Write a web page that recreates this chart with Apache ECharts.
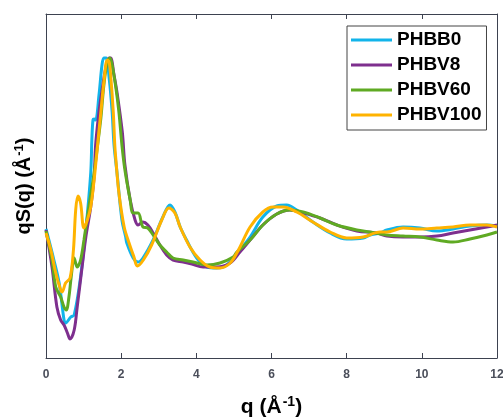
<!DOCTYPE html>
<html>
<head>
<meta charset="utf-8">
<script src="https://cdn.jsdelivr.net/npm/echarts@6/dist/echarts.min.js"></script>
<style>html,body{margin:0;padding:0;background:#fff;}#c{width:503px;height:417px;}</style>
</head>
<body>
<div id="c"></div>
<script>
const seriesNames = ['PHBB0', 'PHBV8', 'PHBV60', 'PHBV100'];
const xTicks = [0, 2, 4, 6, 8, 10, 12];

const qPHBB0 = [0, 0.21, 0.35, 0.48, 0.52, 0.66, 0.75, 0.92, 1.06, 1.19, 1.22, 1.25, 1.28, 1.32, 1.41, 1.49, 1.54, 1.6, 1.68, 1.76, 1.81, 1.89, 2.02, 2.12, 2.15, 2.32, 2.45, 2.58, 2.85, 3.11, 3.3, 3.43, 3.57, 3.74, 4.01, 4.28, 4.54, 4.81, 5.11, 5.43, 5.77, 6.14, 6.4, 6.67, 7.1, 7.56, 8.0, 8.44, 8.62, 8.89, 9.07, 9.5, 9.95, 10.4, 10.83, 11.28, 11.73, 12];
const vPHBB0 = [0.03, -0.28, -0.51, -0.88, -0.91, -0.85, -0.83, -0.45, 0.02, 0.59, 0.92, 1.12, 1.13, 1.12, 1.37, 1.67, 1.74, 1.74, 1.54, 1.20, 0.87, 0.59, 0.12, -0.05, -0.11, -0.26, -0.30, -0.26, -0.08, 0.15, 0.27, 0.20, 0.05, -0.08, -0.26, -0.35, -0.36, -0.33, -0.20, -0.05, 0.15, 0.26, 0.27, 0.22, 0.10, -0.01, -0.07, -0.06, -0.03, -0.01, 0.02, 0.05, 0.04, 0.01, 0.03, 0.06, 0.07, 0.06];

const qPHBV8 = [0, 0.16, 0.29, 0.39, 0.48, 0.57, 0.64, 0.75, 0.83, 0.96, 1.06, 1.19, 1.28, 1.32, 1.41, 1.5, 1.59, 1.68, 1.72, 1.81, 1.9, 2.03, 2.1, 2.24, 2.37, 2.45, 2.58, 2.71, 2.85, 3.03, 3.21, 3.38, 3.65, 3.88, 4.18, 4.54, 4.9, 5.16, 5.43, 5.77, 6.14, 6.49, 6.84, 7.29, 7.74, 8.27, 8.8, 9.07, 9.5, 9.95, 10.4, 10.83, 11.28, 11.73, 12];
const vPHBV8 = [0.02, -0.35, -0.75, -0.88, -0.93, -1.01, -1.07, -0.98, -0.75, -0.35, -0.05, 0.25, 0.55, 0.87, 1.20, 1.44, 1.64, 1.74, 1.74, 1.57, 1.37, 1.00, 0.67, 0.32, 0.12, 0.07, 0.10, 0.07, -0.01, -0.13, -0.23, -0.28, -0.30, -0.32, -0.35, -0.35, -0.31, -0.20, -0.08, 0.07, 0.18, 0.22, 0.19, 0.14, 0.07, 0.01, -0.01, -0.04, -0.05, -0.05, -0.04, -0.01, 0.02, 0.05, 0.07];

const qPHBV60 = [0, 0.16, 0.26, 0.39, 0.48, 0.54, 0.61, 0.67, 0.75, 0.83, 0.92, 1.01, 1.14, 1.28, 1.37, 1.46, 1.54, 1.63, 1.7, 1.76, 1.86, 1.94, 2.02, 2.1, 2.24, 2.32, 2.45, 2.58, 2.71, 2.85, 3.03, 3.21, 3.38, 3.65, 3.91, 4.28, 4.63, 4.98, 5.08, 5.43, 5.77, 6.14, 6.49, 6.84, 7.29, 7.74, 8.27, 8.62, 9.07, 9.5, 9.95, 10.4, 10.83, 11.28, 11.73, 12];
const vPHBV60 = [0.01, -0.28, -0.55, -0.65, -0.75, -0.78, -0.65, -0.45, -0.26, -0.35, -0.28, -0.08, 0.25, 0.59, 0.86, 1.14, 1.47, 1.70, 1.74, 1.67, 1.44, 1.20, 0.87, 0.62, 0.32, 0.19, 0.19, 0.05, 0.04, -0.03, -0.13, -0.20, -0.26, -0.28, -0.30, -0.33, -0.31, -0.25, -0.20, -0.08, 0.07, 0.18, 0.22, 0.20, 0.14, 0.07, 0.02, 0.00, -0.03, -0.04, -0.05, -0.08, -0.10, -0.07, -0.03, 0.00];

const qPHBV100 = [0, 0.13, 0.26, 0.39, 0.43, 0.52, 0.64, 0.73, 0.79, 0.85, 0.92, 1.01, 1.1, 1.19, 1.28, 1.37, 1.46, 1.54, 1.63, 1.68, 1.72, 1.79, 1.83, 1.86, 1.94, 2.08, 2.21, 2.34, 2.43, 2.59, 2.81, 3.08, 3.27, 3.43, 3.57, 3.83, 4.1, 4.36, 4.63, 4.9, 5.12, 5.43, 5.77, 6.04, 6.31, 6.67, 7.1, 7.56, 8.0, 8.44, 8.89, 9.07, 9.5, 9.95, 10.4, 10.83, 11.28, 11.73, 12];
const vPHBV100 = [-0.01, -0.18, -0.41, -0.58, -0.60, -0.51, -0.46, -0.18, 0.22, 0.36, 0.29, 0.04, 0.12, 0.25, 0.52, 0.86, 1.20, 1.50, 1.72, 1.70, 1.57, 1.20, 0.87, 0.72, 0.39, 0.05, -0.11, -0.25, -0.34, -0.28, -0.13, 0.12, 0.24, 0.19, 0.05, -0.15, -0.28, -0.35, -0.36, -0.31, -0.18, 0.05, 0.20, 0.25, 0.25, 0.20, 0.10, 0.00, -0.06, -0.05, 0.00, 0.00, 0.04, 0.03, 0.04, 0.05, 0.07, 0.07, 0.05];

const qs = [qPHBB0, qPHBV8, qPHBV60, qPHBV100];
const vs = [vPHBB0, vPHBV8, vPHBV60, vPHBV100];
const colors = ['#12B4EA', '#7E2F8E', '#5FAA23', '#FFB300'];

const axisColor = '#3d4250';
const font = '"Liberation Sans", Arial, sans-serif';

const chart = echarts.init(document.getElementById('c'), null, {renderer: 'canvas'});
chart.setOption({
  animation: false,
  backgroundColor: '#ffffff',
  grid: {left: 46, right: 6, top: 14, bottom: 59, containLabel: false, outerBoundsMode: 'none'},
  legend: {
    orient: 'vertical',
    left: 347, top: 26,
    data: seriesNames,
    icon: 'rect',
    itemWidth: 41, itemHeight: 3,
    itemGap: 5,
    padding: [4, 5, 5, 4],
    borderColor: '#444', borderWidth: 1,
    backgroundColor: '#fff',
    textStyle: {fontFamily: font, fontWeight: 'bold', fontSize: 19, color: '#000', lineHeight: 20}
  },
  xAxis: [{
    type: 'value', min: 0, max: 12, interval: 2,
    position: 'bottom',
    axisLine: {show: true, onZero: false, lineStyle: {color: axisColor, width: 1}},
    axisTick: {show: true, inside: true, length: 5, lineStyle: {color: axisColor}},
    axisLabel: {show: true, margin: 11, fontFamily: font, fontWeight: 'bold', fontSize: 12, color: '#4a4e5a',
      formatter: v => xTicks.includes(v) ? String(v) : ''},
    splitLine: {show: false},
    name: '{b|q (Å}{s|-1}{b|)}',
    nameLocation: 'middle', nameGap: 37,
    nameTextStyle: {rich: {
      b: {fontFamily: font, fontWeight: 'bold', fontSize: 21, color: '#000'},
      s: {fontFamily: font, fontWeight: 'bold', fontSize: 14, color: '#000', padding: [0, 0, 10, 1]}
    }}
  }, {
    type: 'value', min: 0, max: 12, interval: 2,
    position: 'top',
    axisLine: {show: true, onZero: false, lineStyle: {color: axisColor, width: 1}},
    axisTick: {show: true, inside: true, length: 5, lineStyle: {color: axisColor}},
    axisLabel: {show: false},
    splitLine: {show: false}
  }],
  yAxis: [{
    type: 'value', min: -1.26, max: 2.18,
    position: 'left',
    axisLine: {show: true, onZero: false, lineStyle: {color: axisColor, width: 1}},
    axisTick: {show: false},
    axisLabel: {show: false},
    splitLine: {show: false},
    name: '{b|qS(q) (Å}{s|-1}{b|)}',
    nameLocation: 'middle', nameGap: 10, nameRotate: 90,
    nameTextStyle: {rich: {
      b: {fontFamily: font, fontWeight: 'bold', fontSize: 20, color: '#000'},
      s: {fontFamily: font, fontWeight: 'bold', fontSize: 13, color: '#000', padding: [0, 0, 10, 1]}
    }}
  }, {
    type: 'value', min: -1.26, max: 2.18,
    position: 'right',
    axisLine: {show: true, onZero: false, lineStyle: {color: axisColor, width: 1}},
    axisTick: {show: false},
    axisLabel: {show: false},
    splitLine: {show: false}
  }],
  series: seriesNames.map((name, k) => ({
    name: name,
    type: 'line',
    xAxisIndex: 0, yAxisIndex: 0,
    data: qs[k].map((q, i) => [q, vs[k][i]]),
    showSymbol: false,
    symbol: 'none',
    smooth: 0.35,
    lineStyle: {color: colors[k], width: 3},
    itemStyle: {color: colors[k]},
    clip: true
  }))
});
</script>
</body>
</html>
